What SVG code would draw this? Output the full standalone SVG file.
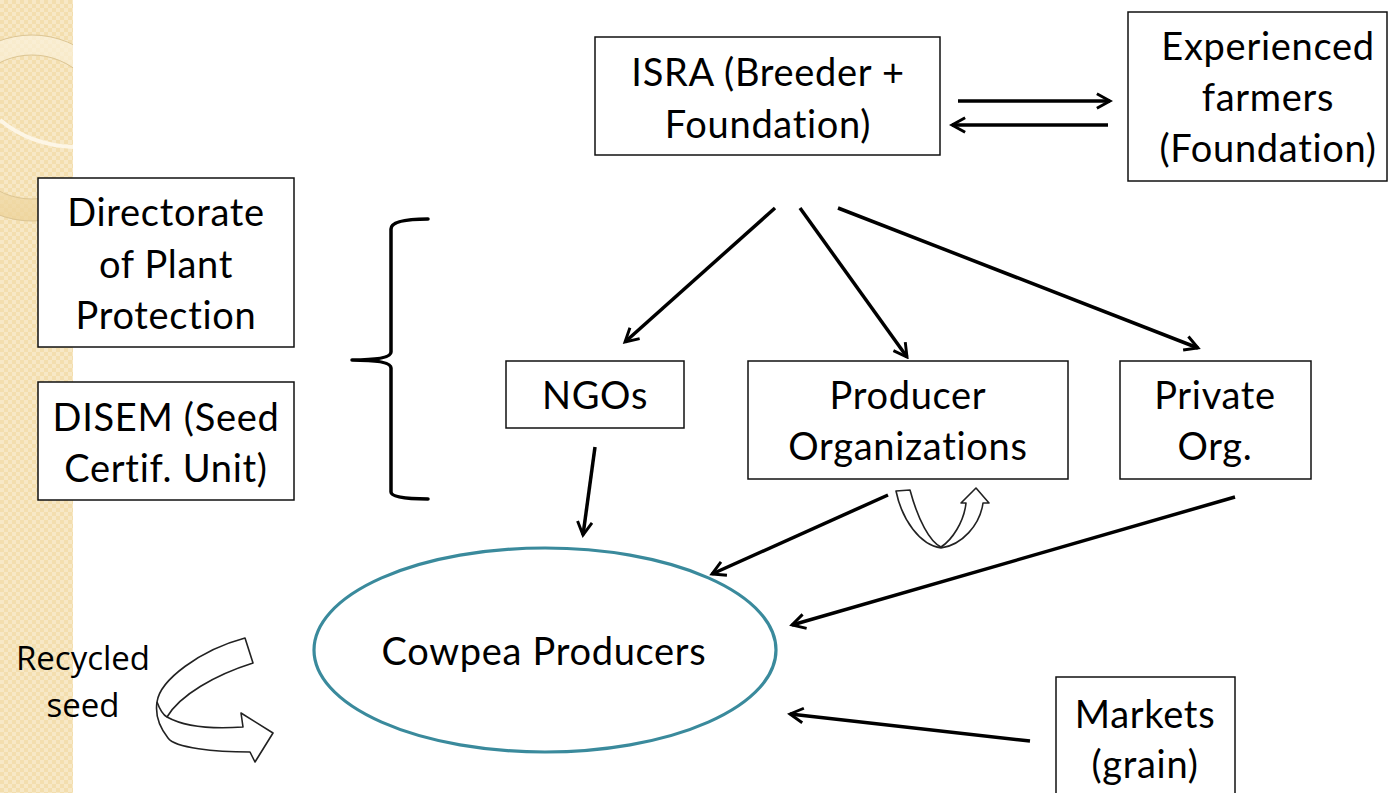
<svg xmlns="http://www.w3.org/2000/svg" width="1388" height="793" viewBox="0 0 1388 793">
<defs>
<pattern id="chk" width="8" height="8" patternUnits="userSpaceOnUse">
<rect width="8" height="8" fill="#f3deae"/>
<rect width="4" height="4" fill="#f7e8c6"/>
<rect x="4" y="4" width="4" height="4" fill="#f7e8c6"/>
</pattern>
<linearGradient id="band" x1="0" y1="0" x2="0" y2="1">
<stop offset="0" stop-color="#fbf2dc"/>
<stop offset="0.55" stop-color="#f6e6c0"/>
<stop offset="1" stop-color="#ecd196"/>
</linearGradient>
<clipPath id="strip"><rect x="0" y="0" width="73" height="793"/></clipPath>
<marker id="ah" viewBox="0 0 12 12" markerWidth="5" markerHeight="5" refX="10" refY="6" orient="auto" markerUnits="strokeWidth">
<path d="M1,1 L10,6 L1,11" fill="none" stroke="#000" stroke-width="2" stroke-linejoin="miter"/>
</marker>
<style>
.box{fill:#fff;stroke:#111;stroke-width:1.5}
.t{font-family:Lato,"Open Sans",sans-serif;font-size:38px;letter-spacing:0.7px;fill:#000;text-anchor:middle}
.c{fill:none;stroke:#000;stroke-width:3.5;marker-end:url(#ah)}
.blk{fill:#fff;stroke:#222;stroke-width:1.6;stroke-linejoin:round}
</style>
</defs>
<rect width="1388" height="793" fill="#fff"/>
<g id="background">
<rect x="0" y="0" width="73" height="793" fill="url(#chk)"/>
<g clip-path="url(#strip)">
<path d="M32,35 A93,93 0 1,1 31.9,35 Z M32,55 A72,72 0 1,0 32.1,55 Z" fill="url(#band)" fill-rule="evenodd" opacity="0.7"/>
<circle cx="32" cy="128" r="93" fill="none" stroke="#dcc593" stroke-width="1"/>
<circle cx="32" cy="127" r="72" fill="none" stroke="#dcc593" stroke-width="1"/>
<path d="M0,120 Q30,145 73,147" fill="none" stroke="#fdf6e6" stroke-width="4"/>
</g>
</g>
<g id="isra"><rect class="box" x="595" y="37" width="345" height="118"/>
<text class="t" x="768" y="86">ISRA (Breeder +</text><text class="t" x="768" y="138">Foundation)</text></g>
<g id="experienced"><rect class="box" x="1128" y="12" width="259" height="169"/>
<text class="t" x="1268" y="60">Experienced</text><text class="t" x="1268" y="111">farmers</text><text class="t" x="1268" y="162">(Foundation)</text></g>
<g id="directorate"><rect class="box" x="38" y="178" width="256" height="169"/>
<text class="t" x="166" y="226">Directorate</text><text class="t" x="166" y="278">of Plant</text><text class="t" x="166" y="329">Protection</text></g>
<g id="disem"><rect class="box" x="38" y="382" width="256" height="118"/>
<text class="t" x="166" y="431">DISEM (Seed</text><text class="t" x="166" y="482">Certif. Unit)</text></g>
<g id="ngos"><rect class="box" x="506" y="361" width="178" height="67"/>
<text class="t" x="595" y="409">NGOs</text></g>
<g id="producer-org"><rect class="box" x="748" y="361" width="320" height="118"/>
<text class="t" x="908" y="409">Producer</text><text class="t" x="908" y="460">Organizations</text></g>
<g id="private"><rect class="box" x="1120" y="361" width="191" height="118"/>
<text class="t" x="1215" y="409">Private</text><text class="t" x="1215" y="460">Org.</text></g>
<g id="markets"><rect class="box" x="1056" y="677" width="179" height="130"/>
<text class="t" x="1145" y="728">Markets</text><text class="t" x="1145" y="778">(grain)</text></g>
<g id="cowpea"><ellipse cx="545" cy="650" rx="231" ry="102" fill="#fff" stroke="#3a8a9c" stroke-width="3.2"/>
<text class="t" x="544" y="665">Cowpea Producers</text></g>
<g id="recycled">
<text x="83" y="670" font-family="'Open Sans',sans-serif" font-size="33" text-anchor="middle" fill="#000">Recycled</text>
<text x="83" y="717" font-family="'Open Sans',sans-serif" font-size="33" text-anchor="middle" fill="#000">seed</text>
</g>
<g id="connectors">
<line class="c" x1="958" y1="101" x2="1110" y2="101"/>
<line class="c" x1="1108" y1="125" x2="952" y2="125"/>
<line class="c" x1="775" y1="208" x2="625" y2="342"/>
<line class="c" x1="800" y1="208" x2="907" y2="357"/>
<line class="c" x1="838" y1="208" x2="1198" y2="348"/>
<line class="c" x1="595" y1="447" x2="583" y2="535"/>
<line class="c" x1="888" y1="495" x2="712" y2="574"/>
<line class="c" x1="1235" y1="497" x2="792" y2="625"/>
<line class="c" x1="1030" y1="741" x2="790" y2="714"/>
<path d="M428,219 Q391,219 391,229 L391,352 Q391,360 352,360 Q391,360 391,368 L391,492 Q391,499 428,499" fill="none" stroke="#000" stroke-width="3.5" stroke-linecap="round" stroke-linejoin="round"/>
<path class="blk" d="M896,491 L910,490 C918,520 930,542 941,547 C952,540 964,522 966,503 L961,503 L976,488 L989,503 L983,503 C980,525 962,545 941,548 C920,545 902,520 896,491 Z"/>
<path class="blk" d="M245,638 L253,663 C215,675 180,695 167,717 C185,727 215,729 243,727 L241,713 L273,733 L255,762 L250,752 C215,752 175,748 168,738 C160,728 155,715 157,702 C160,680 200,650 245,638 Z"/>
<path d="M157,702 C160,710 163,715 167,717" fill="none" stroke="#222" stroke-width="1.6"/>
</g>
</svg>
